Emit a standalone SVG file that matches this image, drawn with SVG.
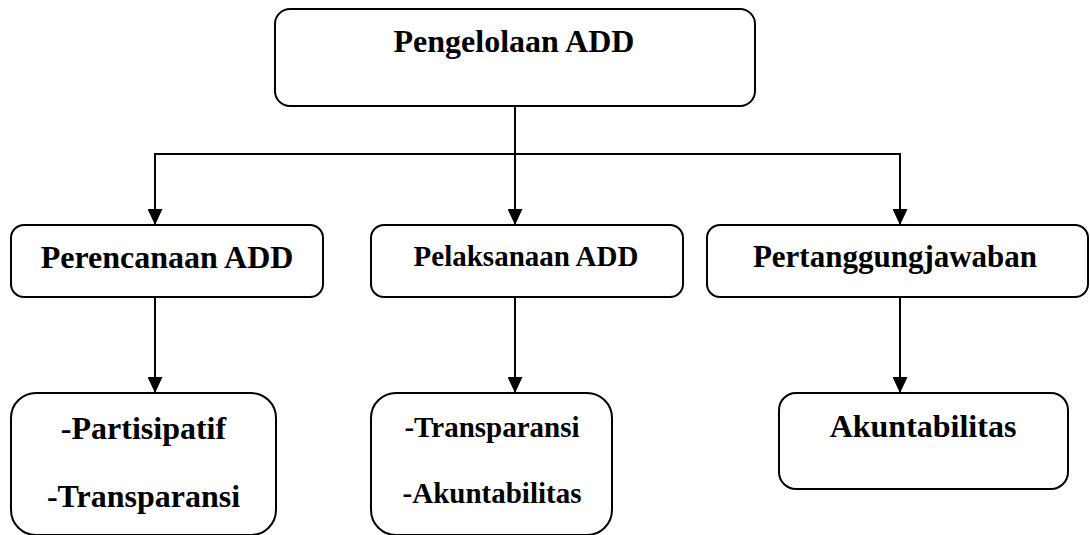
<svg xmlns="http://www.w3.org/2000/svg" width="1090" height="535" viewBox="0 0 1090 535">
<style>
.box{fill:#fff;stroke:#000;stroke-width:2}
.t{font-family:"Liberation Serif","Times New Roman",serif;font-weight:bold;fill:#000;text-anchor:middle}
.line{fill:none;stroke:#000;stroke-width:2}
</style>
<defs>
<marker id="arr" markerUnits="userSpaceOnUse" markerWidth="16" markerHeight="15" viewBox="0 0 16 15" refX="16" refY="7.5" orient="auto">
<path d="M0,0 L16,7.5 L0,15 z" fill="#000"/>
</marker>
</defs>
<rect width="1090" height="535" fill="#fff"/>
<g id="connectors">
<line class="line" x1="515" y1="106" x2="515" y2="154"/>
<line class="line" x1="154" y1="154" x2="901" y2="154"/>
<line class="line" x1="155" y1="154" x2="155" y2="225" marker-end="url(#arr)"/>
<line class="line" x1="515" y1="154" x2="515" y2="225" marker-end="url(#arr)"/>
<line class="line" x1="900" y1="154" x2="900" y2="225" marker-end="url(#arr)"/>
<line class="line" x1="155" y1="297" x2="155" y2="393" marker-end="url(#arr)"/>
<line class="line" x1="515" y1="297" x2="515" y2="393" marker-end="url(#arr)"/>
<line class="line" x1="900" y1="297" x2="900" y2="393" marker-end="url(#arr)"/>
</g>
<g id="pengelolaan">
<rect class="box" x="275" y="9" width="480" height="97" rx="15"/>
<text class="t" x="514" y="52" font-size="32">Pengelolaan ADD</text>
</g>
<g id="perencanaan">
<rect class="box" x="11" y="225" width="312" height="72" rx="13"/>
<text class="t" x="167" y="268" font-size="32">Perencanaan ADD</text>
</g>
<g id="pelaksanaan">
<rect class="box" x="371" y="225" width="312" height="72" rx="13"/>
<text class="t" x="526" y="266" font-size="29">Pelaksanaan ADD</text>
</g>
<g id="pertanggungjawaban">
<rect class="box" x="707" y="225" width="381" height="72" rx="13"/>
<text class="t" x="895" y="267" font-size="31">Pertanggungjawaban</text>
</g>
<g id="partisipatif">
<rect class="box" x="11" y="393" width="265" height="142" rx="25"/>
<text class="t" x="143.5" y="439" font-size="32">-Partisipatif</text>
<text class="t" x="143.5" y="507" font-size="32">-Transparansi</text>
</g>
<g id="transparansi">
<rect class="box" x="371" y="393" width="241" height="142" rx="25"/>
<text class="t" x="492" y="437" font-size="29">-Transparansi</text>
<text class="t" x="492" y="503" font-size="29">-Akuntabilitas</text>
</g>
<g id="akuntabilitas">
<rect class="box" x="779" y="393" width="289" height="96" rx="17"/>
<text class="t" x="923" y="437" font-size="32">Akuntabilitas</text>
</g>
</svg>
